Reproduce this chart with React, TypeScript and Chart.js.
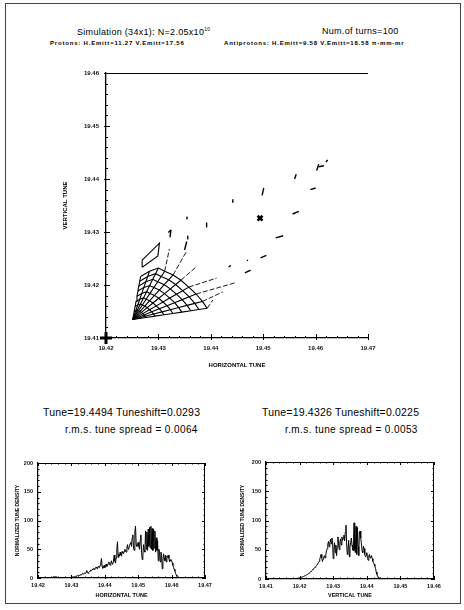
import React, { useEffect, useRef } from 'react';
import { Chart, registerables } from 'chart.js';

Chart.register(...registerables);

const FONT = '"Liberation Sans", Arial, sans-serif';

// ---------- Main plot: tune footprint ----------
const hTuneMin = 19.42;
const hTuneMax = 19.47;
const vTuneMin = 19.41;
const vTuneMax = 19.46;

const apex = { x: 19.4251, y: 19.4135 };

// radial lines of the footprint mesh (outward from the apex), horizontal tune
const fanX = [
  [19.42537, 19.42555, 19.42573, 19.42591, 19.42609, 19.42627, 19.42644, 19.4266],
  [19.42568, 19.42606, 19.42644, 19.42683, 19.42721, 19.4276, 19.42795, 19.4283],
  [19.42598, 19.42657, 19.42716, 19.42775, 19.42833, 19.42892, 19.42946, 19.43],
  [19.4262, 19.42693, 19.42766, 19.42839, 19.42913, 19.42986, 19.43053, 19.4312],
  [19.42649, 19.42741, 19.42833, 19.42926, 19.43018, 19.43111, 19.43195, 19.4328],
  [19.42676, 19.42786, 19.42896, 19.43007, 19.43117, 19.43228, 19.43329, 19.4343],
  [19.42703, 19.42831, 19.42959, 19.43088, 19.43216, 19.43345, 19.43462, 19.4358],
  [19.42728, 19.42873, 19.43018, 19.43163, 19.43309, 19.43454, 19.43587, 19.4372],
  [19.42749, 19.42909, 19.43069, 19.43228, 19.43388, 19.43547, 19.43694, 19.4384],
  [19.42766, 19.42936, 19.43106, 19.43277, 19.43447, 19.43618, 19.43774, 19.4393],
];
// same nodes, vertical tune
const fanY = [
  [19.41496, 19.41593, 19.4169, 19.41787, 19.41885, 19.41982, 19.42071, 19.4216],
  [19.41514, 19.41623, 19.41732, 19.41841, 19.41951, 19.4206, 19.4216, 19.4226],
  [19.41525, 19.41641, 19.41757, 19.41874, 19.4199, 19.42107, 19.42213, 19.4232],
  [19.41514, 19.41623, 19.41732, 19.41841, 19.41951, 19.4206, 19.4216, 19.4226],
  [19.41501, 19.41602, 19.41703, 19.41804, 19.41904, 19.42005, 19.42098, 19.4219],
  [19.41483, 19.41572, 19.41661, 19.4175, 19.41838, 19.41927, 19.42009, 19.4209],
  [19.4146, 19.41533, 19.41606, 19.41679, 19.41753, 19.41826, 19.41893, 19.4196],
  [19.41436, 19.41494, 19.41552, 19.41609, 19.41667, 19.41724, 19.41777, 19.4183],
  [19.41411, 19.41452, 19.41493, 19.41534, 19.41574, 19.41615, 19.41653, 19.4169],
  [19.41388, 19.41413, 19.41438, 19.41463, 19.41489, 19.41514, 19.41537, 19.4156],
];
// thin continuations of the radial lines beyond the dense mesh
const fanTipX = [null, null, null, 19.4321, 19.4354, 19.4373, 19.4411, 19.4446, 19.4423, 19.4404];
const fanTipY = [null, null, null, 19.4268, 19.4264, 19.4235, 19.4213, 19.4204, 19.4187, 19.4172];

// detached loop at upper left of the mesh
const loopX = [19.4269, 19.4302, 19.4299, 19.427, 19.4269];
const loopY = [19.4247, 19.4279, 19.4255, 19.4234, 19.4247];

// isolated short strokes at small amplitudes: [x1, y1, x2, y2]
const sparseDashes = [
  [19.4322, 19.429, 19.4324, 19.4304],
  [19.4319, 19.4299, 19.4324, 19.4304],
  [19.435, 19.4266, 19.4354, 19.4282],
  [19.4355, 19.4287, 19.4356, 19.4293],
  [19.4354, 19.4324, 19.4355, 19.4329],
  [19.4391, 19.431, 19.4392, 19.4318],
  [19.4442, 19.4355, 19.4442, 19.4362],
  [19.4498, 19.4369, 19.4501, 19.4383],
  [19.456, 19.44, 19.4563, 19.4409],
  [19.4602, 19.4416, 19.4606, 19.4428],
  [19.4606, 19.4423, 19.4616, 19.4425],
  [19.462, 19.4432, 19.4623, 19.4436],
  [19.459, 19.438, 19.46, 19.4383],
  [19.4556, 19.4334, 19.4568, 19.4339],
  [19.4524, 19.4289, 19.4538, 19.4293],
  [19.4495, 19.4251, 19.4506, 19.4256],
  [19.4465, 19.4223, 19.4476, 19.4228],
  [19.4469, 19.4246, 19.4471, 19.4247],
  [19.4434, 19.4234, 19.4438, 19.4237],
];

const nominalTune = { x: 19.4494, y: 19.4326 };
const originMark = { x: 19.42, y: 19.41 };

// ---------- Lower plots: tune density (bins of 0.0002 in tune) ----------
const densityStep = 0.0002;
const hDensityStart = 19.424;
const hDensity = [
  0.5, 1, 1.5, 2, 2, 2, 2, 2, 1.5, 1, 1, 1, 0.5, 0.5, 0, 0, 0, 0, 0, 0,
  0, 0, 0, 0, 0, 0.5, 0.5, 1, 1, 1,
  1, 1.5, 1.5, 2, 2, 2.5, 3, 3, 3.5, 4,
  4, 5, 4.5, 5, 6, 5.5, 7, 8, 7, 8,
  9, 8, 10, 13, 9, 8, 10, 11, 12, 14,
  13, 15, 14, 17, 16, 15, 18, 19, 17, 16,
  20, 19, 18, 22, 26, 34, 20, 17, 19, 22,
  18, 22, 24, 20, 21, 25, 28, 24, 22, 26,
  30, 24, 26, 28, 40, 30, 26, 35, 50, 63,
  36, 42, 38, 45, 40, 38, 46, 44, 42, 46,
  50, 47, 45, 52, 58, 50, 52, 56, 60, 62,
  55, 70, 75, 52, 48, 80, 90, 58, 55, 60,
  62, 55, 50, 66, 75, 45, 32, 40, 58, 48,
  45, 82, 50, 80, 48, 85, 55, 88, 52, 90,
  50, 86, 48, 85, 52, 82, 45, 70, 48, 65,
  30, 50, 44, 28, 45, 40, 16, 30, 42, 35,
  30, 40, 28, 38, 36, 40, 34, 28, 32, 30,
  30, 26, 22, 18, 15, 12, 8, 5, 3, 1,
  0, 0, 0, 0, 0, 0,
];
const vDensityStart = 19.418;
const vDensity = [
  0, 0, 0.3, 0.5, 0.7, 1, 1, 1.2, 1.5, 1.8,
  2, 2.3, 2.7, 3, 3.5, 4, 4.5, 5, 5.5, 6,
  7, 7.5, 8, 9, 10, 11, 12, 13, 14, 15,
  17, 18, 19, 20, 21, 23, 25, 26, 28, 30,
  34, 38, 42, 36, 30, 34, 38, 40, 36, 42,
  48, 52, 60, 64, 55, 62, 68, 60, 70, 66,
  35, 50, 62, 45, 58, 40, 55, 72, 60, 50,
  64, 68, 58, 72, 66, 70, 75, 65, 80, 92,
  60, 42, 50, 66, 38, 55, 62, 70, 58, 50,
  48, 96, 50, 45, 90, 42, 88, 55, 40, 80,
  82, 70, 60, 48, 45, 56, 52, 42, 38, 40,
  45, 35, 32, 40, 42, 36, 38, 40, 35, 30,
  28, 25, 22, 18, 12, 8, 5, 3, 1, 0,
  0, 0,
];

// ---------- plugin: inward ticks & extra frame lines ----------
const frameTicks = {
  id: 'frameTicks',
  afterDatasetsDraw(chart: any, _args: any, opts: any) {
    if (!opts || !opts.enabled) return;
    const { ctx, chartArea: a } = chart;
    const xs = chart.scales.x;
    const ys = chart.scales.y;
    ctx.save();
    ctx.strokeStyle = '#000';
    ctx.lineWidth = 1;
    ctx.beginPath();
    if (opts.top) {
      ctx.moveTo(a.left, a.top + 0.5);
      ctx.lineTo(a.right, a.top + 0.5);
    }
    if (opts.right) {
      ctx.moveTo(a.right - 0.5, a.top);
      ctx.lineTo(a.right - 0.5, a.bottom);
    }
    const axisTicks = (scale: any, major: number, div: number, horizontal: boolean) => {
      const minor = major / div;
      const n = Math.round((scale.max - scale.min) / minor);
      for (let i = 0; i <= n; i++) {
        const p = Math.round(scale.getPixelForValue(scale.min + i * minor)) + 0.5;
        const isMajor = i % div === 0;
        const len = isMajor ? opts.majorLen : opts.minorLen;
        if (horizontal) {
          ctx.moveTo(p, a.bottom + (isMajor ? opts.outLen : 0));
          ctx.lineTo(p, a.bottom - len);
          if (opts.top && opts.frameTicks) {
            ctx.moveTo(p, a.top);
            ctx.lineTo(p, a.top + len);
          }
        } else {
          ctx.moveTo(a.left - (isMajor ? opts.outLen : 0), p);
          ctx.lineTo(a.left + len, p);
          if (opts.right && opts.frameTicks) {
            ctx.moveTo(a.right, p);
            ctx.lineTo(a.right - len, p);
          }
        }
      }
    };
    axisTicks(xs, opts.xMajor, opts.xDiv, true);
    axisTicks(ys, opts.yMajor, opts.yDiv, false);
    ctx.stroke();
    ctx.restore();
  },
};

const tickFont = { family: FONT, size: 6, weight: 'bold' as const };
const titleFont = { family: FONT, size: 6, weight: 'bold' as const };

function lineDs(data: { x: number; y: number }[], width = 1, dash: number[] = []) {
  return {
    data,
    showLine: true,
    borderColor: '#000',
    borderWidth: width,
    borderDash: dash,
    pointRadius: 0,
    pointHoverRadius: 0,
    tension: 0,
    fill: false,
  };
}

function mainConfig(): any {
  const datasets: any[] = [];
  fanX.forEach((row, k) => {
    datasets.push(lineDs([apex, ...row.map((x, j) => ({ x, y: fanY[k][j] }))], 1.1));
  });
  for (let j = 0; j < fanX[0].length; j++) {
    datasets.push(lineDs(fanX.map((row, k) => ({ x: row[j], y: fanY[k][j] })), 1.1));
  }
  fanTipX.forEach((tx, k) => {
    if (tx === null) return;
    const last = fanX[k].length - 1;
    datasets.push(
      lineDs(
        [
          { x: fanX[k][last], y: fanY[k][last] },
          { x: tx, y: fanTipY[k] as number },
        ],
        0.9,
        [5, 2]
      )
    );
  });
  datasets.push(lineDs(loopX.map((x, i) => ({ x, y: loopY[i] })), 1.1));
  sparseDashes.forEach((d) => {
    datasets.push(lineDs([{ x: d[0], y: d[1] }, { x: d[2], y: d[3] }], 1.4));
  });
  datasets.push({
    data: [nominalTune],
    showLine: false,
    pointStyle: 'crossRot',
    pointRadius: 3.5,
    borderWidth: 2.5,
    borderColor: '#000',
  });
  datasets.push({
    data: [originMark],
    showLine: false,
    pointStyle: 'cross',
    pointRadius: 6,
    borderWidth: 3,
    borderColor: '#000',
    clip: false,
  });

  return {
    type: 'scatter',
    data: { datasets },
    plugins: [frameTicks],
    options: {
      responsive: false,
      animation: false,
      events: [],
      layout: { padding: { top: 13, right: 32, left: 0, bottom: 0 } },
      plugins: {
        legend: { display: false },
        tooltip: { enabled: false },
        frameTicks: {
          enabled: true, top: true, right: false, frameTicks: false,
          xMajor: 0.01, xDiv: 5, yMajor: 0.01, yDiv: 5,
          majorLen: 4, minorLen: 2, outLen: 2,
        },
      },
      scales: {
        x: {
          type: 'linear', min: hTuneMin, max: hTuneMax,
          afterFit: (s: any) => { s.height = 52; },
          grid: { display: false, drawTicks: false },
          border: { display: true, color: '#000', width: 1.3 },
          ticks: {
            stepSize: 0.01, autoSkip: false, maxRotation: 0, padding: 7,
            color: '#111', font: tickFont,
            callback: (v: number) => v.toFixed(2),
          },
          title: { display: true, text: 'HORIZONTAL TUNE', color: '#000', font: titleFont, padding: { top: 0, bottom: 21 } },
        },
        y: {
          type: 'linear', min: vTuneMin, max: vTuneMax,
          afterFit: (s: any) => { s.width = 106; },
          grid: { display: false, drawTicks: false },
          border: { display: true, color: '#000', width: 1.3 },
          ticks: {
            stepSize: 0.01, autoSkip: false, padding: 7,
            color: '#111', font: tickFont,
            callback: (v: number) => v.toFixed(2),
          },
          title: { display: true, text: 'VERTICAL TUNE', color: '#000', font: titleFont, padding: { top: 62, bottom: 0 } },
        },
      },
    },
  };
}

function densityConfig(
  values: number[],
  start: number,
  xmin: number,
  xmax: number,
  xTitle: string,
  pad: { top: number; right: number },
  yWidth: number,
  xHeight: number,
  yTitlePad: number,
  xTitlePad: number
): any {
  const points = values.map((v, i) => ({ x: start + i * densityStep, y: v }));
  return {
    type: 'line',
    data: { datasets: [lineDs(points, 1)] },
    plugins: [frameTicks],
    options: {
      responsive: false,
      animation: false,
      events: [],
      layout: { padding: { top: pad.top, right: pad.right, left: 0, bottom: 0 } },
      plugins: {
        legend: { display: false },
        tooltip: { enabled: false },
        frameTicks: {
          enabled: true, top: true, right: true, frameTicks: true,
          xMajor: 0.01, xDiv: 5, yMajor: 50, yDiv: 5,
          majorLen: 3, minorLen: 1.5, outLen: 1,
        },
      },
      scales: {
        x: {
          type: 'linear', min: xmin, max: xmax,
          afterFit: (s: any) => { s.height = xHeight; },
          grid: { display: false, drawTicks: false },
          border: { display: true, color: '#000', width: 1.2 },
          ticks: {
            stepSize: 0.01, autoSkip: false, maxRotation: 0, padding: 4,
            color: '#111', font: { family: FONT, size: 5.5, weight: 'bold' },
            callback: (v: number) => v.toFixed(2),
          },
          title: { display: true, text: xTitle, color: '#000', font: { family: FONT, size: 5.5, weight: 'bold' }, padding: { top: 0, bottom: xTitlePad } },
        },
        y: {
          type: 'linear', min: 0, max: 200,
          afterFit: (s: any) => { s.width = yWidth; },
          grid: { display: false, drawTicks: false },
          border: { display: true, color: '#000', width: 1.2 },
          ticks: {
            stepSize: 50, autoSkip: false, padding: 5,
            color: '#111', font: { family: FONT, size: 5.5, weight: 'bold' },
          },
          title: { display: true, text: 'NORMALIZED TUNE DENSITY', color: '#000', font: { family: FONT, size: 5, weight: 'bold' }, padding: { top: yTitlePad, bottom: 0 } },
        },
      },
    },
  };
}

function ChartBox(props: { left: number; top: number; width: number; height: number; make: () => any }) {
  const ref = useRef<HTMLCanvasElement>(null);
  useEffect(() => {
    const chart = new Chart(ref.current as HTMLCanvasElement, props.make());
    return () => chart.destroy();
  }, []);
  return (
    <canvas
      ref={ref}
      width={props.width}
      height={props.height}
      style={{ position: 'absolute', left: props.left, top: props.top, width: props.width, height: props.height }}
    />
  );
}

function Txt(props: { left: number; top: number; size: number; bold?: boolean; ls?: number; children: React.ReactNode }) {
  return (
    <div
      style={{
        position: 'absolute', left: props.left, top: props.top, fontSize: props.size,
        fontFamily: FONT, fontWeight: props.bold ? 'bold' : 'normal', letterSpacing: props.ls ?? 0,
        whiteSpace: 'pre', lineHeight: 1, color: '#000',
      }}
    >
      {props.children}
    </div>
  );
}

export default function App() {
  return (
    <div style={{ position: 'fixed', left: 0, top: 0, width: 464, height: 610, background: '#fff', overflow: 'hidden' }}>
      <div style={{ position: 'absolute', left: 5, top: 3, width: 456, height: 601, border: '1px solid #444', boxSizing: 'border-box' }} />
      <Txt left={77} top={27} size={9} ls={0.3}>
        Simulation (34x1): N=2.05x10<sup style={{ fontSize: 5 }}>10</sup>
      </Txt>
      <Txt left={322} top={27} size={9} ls={0.3}>Num.of turns=100</Txt>
      <Txt left={50} top={40} size={6} bold ls={0.8}>Protons: H.Emitt=11.27 V.Emitt=17.56</Txt>
      <Txt left={224} top={40} size={6} bold ls={0.8}>Antiprotons: H.Emitt=9.58 V.Emitt=18.58 π-mm-mr</Txt>

      <ChartBox left={0} top={60} width={400} height={330} make={mainConfig} />

      <Txt left={43} top={407} size={10.5} ls={0.2}>Tune=19.4494 Tuneshift=0.0293</Txt>
      <Txt left={65} top={425} size={10} ls={0.4}>r.m.s. tune spread = 0.0064</Txt>
      <Txt left={262} top={407} size={10.5} ls={0.2}>Tune=19.4326 Tuneshift=0.0225</Txt>
      <Txt left={285} top={425} size={10} ls={0.4}>r.m.s. tune spread = 0.0053</Txt>

      <ChartBox
        left={0} top={445} width={220} height={165}
        make={() => densityConfig(hDensity, hDensityStart, 19.42, 19.47, 'HORIZONTAL TUNE', { top: 18, right: 15 }, 38, 32, 15, 11)}
      />
      <ChartBox
        left={232} top={445} width={232} height={165}
        make={() => densityConfig(vDensity, vDensityStart, 19.41, 19.46, 'VERTICAL TUNE', { top: 17, right: 30 }, 34, 31, 8, 11)}
      />
    </div>
  );
}
